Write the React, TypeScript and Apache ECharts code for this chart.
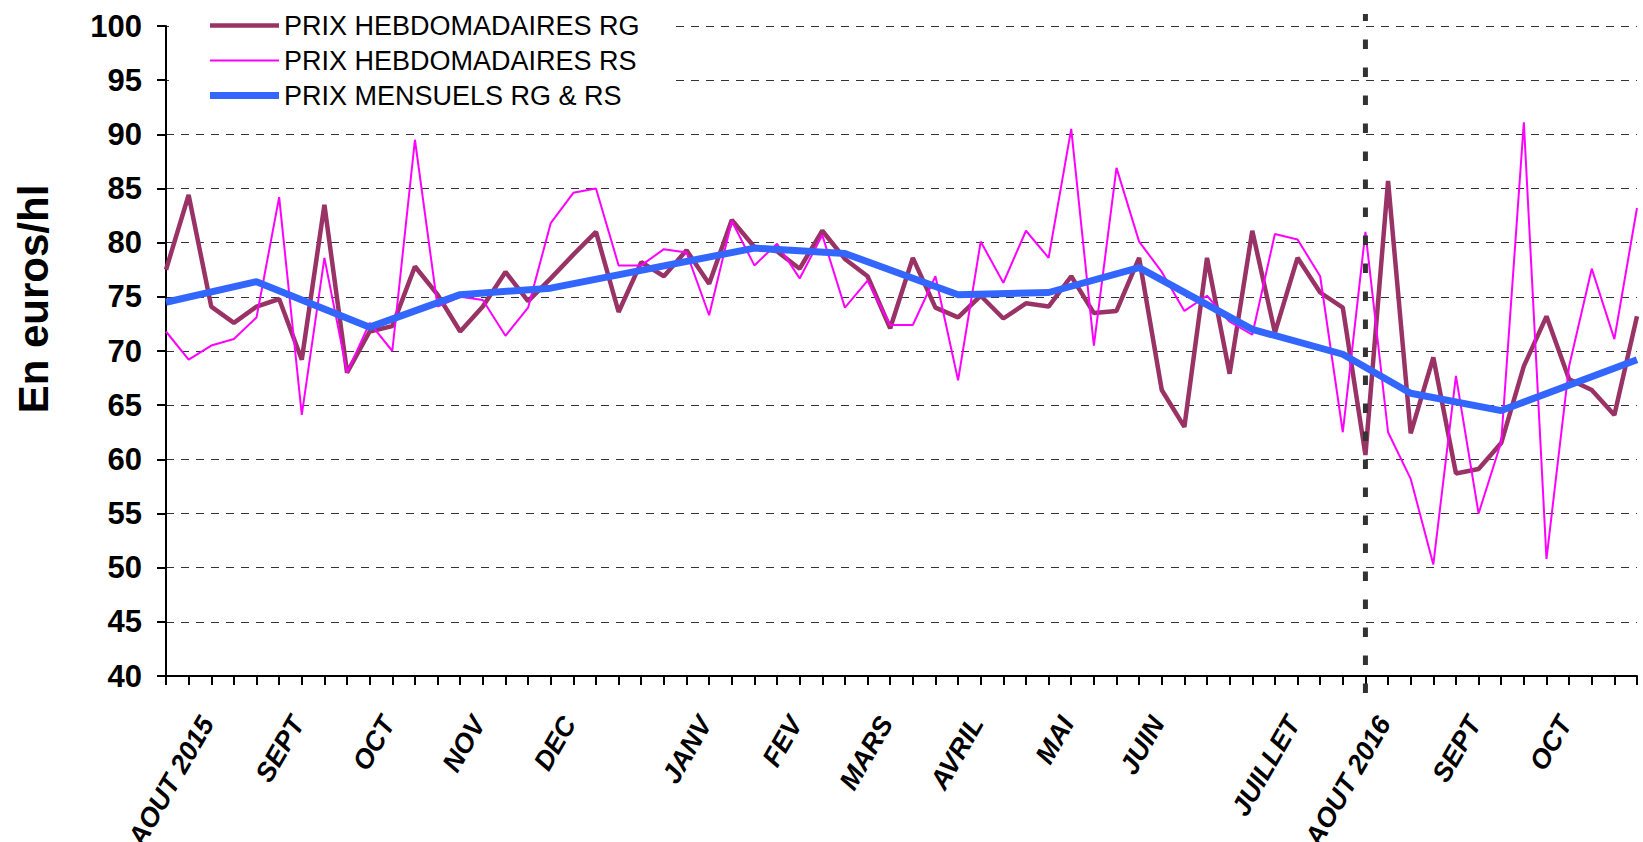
import React, { useEffect, useRef } from 'react';
import * as echarts from 'echarts';

// Weekly categories (Aug 2015 -> Oct 2016); month names mark the labelled weeks
const weekLabels: string[] = [
  '', 'AOUT 2015', '', '', '', 'SEPT', '', '', '', 'OCT',
  '', '', '', 'NOV', '', '', '', 'DEC', '', '',
  '', '', '', 'JANV', '', '', '', 'FEV', '', '',
  '', 'MARS', '', '', '', 'AVRIL', '', '', '', 'MAI',
  '', '', '', 'JUIN', '', '', '', '', '', 'JUILLET',
  '', '', '', 'AOUT 2016', '', '', '', 'SEPT', '', '',
  '', 'OCT', '', '', '', '',
];

const seriesNames = ['PRIX HEBDOMADAIRES RG', 'PRIX HEBDOMADAIRES RS', 'PRIX MENSUELS RG & RS'];

const prixRG: number[] = [
  77.5, 84.4, 74.1, 72.6, 74.1, 74.8, 69.2, 83.5, 68.0, 71.8,
  72.3, 77.8, 75.2, 71.8, 74.1, 77.3, 74.6, 76.7, 78.9, 81.0,
  73.6, 78.2, 76.9, 79.3, 76.2, 82.1, 79.6, 79.2, 77.6, 81.1,
  78.5, 76.9, 72.1, 78.6, 74.0, 73.1, 75.1, 73.0, 74.4, 74.1,
  76.9, 73.5, 73.7, 78.6, 66.4, 63.0, 78.6, 67.9, 81.1, 71.7,
  78.6, 75.4, 74.0, 60.4, 85.7, 62.4, 69.4, 58.7, 59.1, 61.5,
  68.6, 73.2, 67.4, 66.4, 64.1, 73.2,
];

const prixRS: number[] = [
  71.8, 69.2, 70.5, 71.1, 73.1, 84.2, 64.1, 78.6, 68.0, 72.6,
  70.0, 89.5, 74.1, 75.0, 74.7, 71.4, 74.0, 81.8, 84.6, 85.0,
  77.9, 77.9, 79.4, 79.1, 73.3, 82.0, 77.9, 79.9, 76.7, 80.7,
  74.0, 76.5, 72.4, 72.4, 76.9, 67.3, 80.1, 76.3, 81.1, 78.6,
  90.5, 70.5, 86.9, 80.1, 77.3, 73.7, 75.1, 72.7, 71.5, 80.8,
  80.3, 76.9, 62.5, 81.0, 62.5, 58.2, 50.3, 67.7, 55.0, 61.6,
  91.1, 50.8, 68.6, 77.6, 71.1, 83.2,
];

// Monthly average, placed on its week (null = no monthly point that week)
const prixMensuels: (number | null)[] = [
  74.5, null, null, null, 76.4, null, null, null, null, 72.2,
  null, null, null, 75.2, null, null, null, 75.8, null, null,
  null, null, null, null, null, null, 79.5, null, null, null,
  79.0, null, null, null, null, 75.2, null, null, null, 75.4,
  null, null, null, 77.7, null, null, null, null, 72.0, null,
  null, null, 69.7, null, null, 66.1, null, null, null, 64.5,
  null, null, null, null, null, 69.2,
];

const yTicks = { min: 40, max: 100, interval: 5 };
const markerWeek = 53; // AOUT 2016
const yTitle = 'En euros/hl';

const colors = ['#993366', '#FF00FF', '#3366FF'];
const widths = [4.5, 2, 7];

export default function App() {
  const ref = useRef<HTMLDivElement>(null);

  useEffect(() => {
    if (!ref.current) return;
    const chart = echarts.init(ref.current, undefined, { renderer: 'svg' });
    const FONT = '"Liberation Sans", Arial, sans-serif';

    chart.setOption({
      animation: false,
      backgroundColor: '#ffffff',
      grid: {
        left: 166,
        right: 6,
        top: 26,
        bottom: 166,
        containLabel: false,
        outerBoundsMode: 'none',
      },
      legend: {
        orient: 'vertical',
        left: 169,
        top: 0,
        padding: [12, 35, 12, 41],
        backgroundColor: '#ffffff',
        itemWidth: 69,
        itemHeight: 14,
        itemGap: 8,
        data: seriesNames.map((n, i) => ({
          name: n,
          icon: `path://M0,0h69v${widths[i]}h-69z`,
          itemStyle: { color: colors[i], borderWidth: 0 },
        })),
        textStyle: { fontFamily: FONT, fontSize: 27, color: '#000' },
        selectedMode: false,
      },
      xAxis: {
        type: 'category',
        data: weekLabels,
        boundaryGap: false,
        axisLine: { lineStyle: { color: '#000', width: 2 } },
        axisTick: { show: true, interval: 0, length: 9, lineStyle: { color: '#000', width: 2 } },
        axisLabel: {
          interval: 0,
          rotate: 60,
          margin: 32,
          verticalAlign: 'top',
          lineHeight: 43,
          fontFamily: FONT,
          fontSize: 27,
          fontWeight: 'bold',
          fontStyle: 'italic',
          color: '#000',
        },
        splitLine: { show: false },
      },
      yAxis: {
        type: 'value',
        min: yTicks.min,
        max: yTicks.max,
        interval: yTicks.interval,
        axisLine: { show: true, lineStyle: { color: '#000', width: 2 } },
        axisTick: { show: true, length: 9, lineStyle: { color: '#000', width: 2 } },
        axisLabel: {
          margin: 24,
          fontFamily: FONT,
          fontSize: 31,
          fontWeight: 'bold',
          color: '#000',
        },
        splitLine: { show: true, lineStyle: { color: '#333', width: 1, type: [8, 7] } },
      },
      series: [
        {
          name: seriesNames[0],
          type: 'line',
          data: prixRG,
          symbol: 'none',
          lineStyle: { color: colors[0], width: widths[0] },
          itemStyle: { color: colors[0] },
          z: 2,
        },
        {
          name: seriesNames[1],
          type: 'line',
          data: prixRS,
          symbol: 'none',
          lineStyle: { color: colors[1], width: widths[1] },
          itemStyle: { color: colors[1] },
          z: 3,
        },
        {
          name: seriesNames[2],
          type: 'line',
          data: prixMensuels,
          connectNulls: true,
          symbol: 'none',
          lineStyle: { color: colors[2], width: widths[2] },
          itemStyle: { color: colors[2] },
          z: 4,
        },
      ],
    });

    const mx = chart.convertToPixel({ xAxisIndex: 0 }, markerWeek) as number;
    chart.setOption({
      graphic: [
        {
          type: 'text',
          x: 33,
          y: 299,
          rotation: Math.PI / 2,
          style: {
            text: yTitle,
            font: 'bold 42px "Liberation Sans", Arial, sans-serif',
            fill: '#000',
            textAlign: 'center',
            textVerticalAlign: 'middle',
          },
        },
        {
          type: 'line',
          z: 10,
          shape: { x1: mx, y1: 693, x2: mx, y2: 14 },
          style: { stroke: '#333', lineWidth: 5, lineDash: [9.5, 18.5] },
        },
      ],
    });

    return () => chart.dispose();
  }, []);

  return (
    <div
      ref={ref}
      style={{ position: 'absolute', left: 0, top: 0, width: 1643, height: 842 }}
    />
  );
}
